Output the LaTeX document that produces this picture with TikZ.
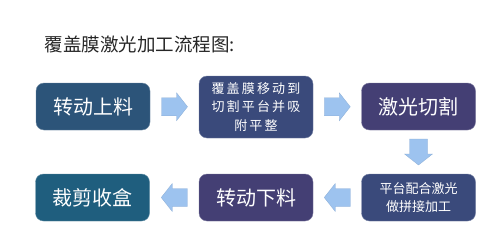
\documentclass[tikz,border=0pt]{standalone}
\usepackage{fontspec}
\setmainfont{Noto Sans CJK SC}
\usetikzlibrary{calc}
\definecolor{cA}{HTML}{2C5479}
\definecolor{cB}{HTML}{3A4A7B}
\definecolor{cC}{HTML}{443F74}
\definecolor{cD}{HTML}{1F5E7E}
\definecolor{arr}{HTML}{9DC3EF}
\tikzset{
  box/.style={rounded corners=8pt, minimum width=114pt, minimum height=47pt,
    text=white, inner sep=2pt, align=center, font=\fontsize{20}{24}\selectfont},
  smalltext/.style={font=\fontsize{13}{18.5}\selectfont},
  flow/.style={fill=arr, draw=arr!90!black, line width=0.3pt}
}
\newcommand{\blockarrow}[2]{%
  \draw[flow, shift={(#1)}, rotate=#2] (-13,-9) -- (2,-9) -- (2,-14) -- (13,0) -- (2,14) -- (2,9) -- (-13,9) -- cycle;}
\begin{document}
\begin{tikzpicture}[x=1pt,y=-1pt]
\useasboundingbox (0,0) rectangle (500,238);
\fill[white] (0,0) rectangle (500,238);
\node[anchor=west, font=\fontsize{18.5}{22}\selectfont, text=black!85] (title) at (41,44) {覆盖膜激光加工流程图:};
\node[box, fill=cA, draw=cA!70!white] (b1) at (93,106.5) {转动上料};
\node[box, smalltext, fill=cB, draw=cB!70!white, minimum height=62pt] (b2) at (256,107) {覆\,盖\,膜\,移\,动\,到\\切\,割\,平\,台\,并\,吸\\附\,平\,整};
\node[box, fill=cC, draw=cC!70!white] (b3) at (418.5,106.5) {激光切割};
\node[box, smalltext, fill=cB, draw=cB!70!white] (b4) at (418.5,197.5) {平台配合激光\\做拼接加工};
\node[box, fill=cC, draw=cC!70!white] (b5) at (256,197.5) {转动下料};
\node[box, fill=cD, draw=cD!70!white] (b6) at (92.5,197.5) {裁剪收盒};
\coordinate (a1) at ($(b1.east)!0.5!(b2.west)$);
\coordinate (a2) at ($(b2.east)!0.5!(b3.west)$);
\coordinate (a3) at ($(b3.south)!0.5!(b4.north)$);
\coordinate (a4) at ($(b4.west)!0.5!(b5.east)$);
\coordinate (a5) at ($(b5.west)!0.5!(b6.east)$);
\blockarrow{a1}{0}
\blockarrow{a2}{0}
\blockarrow{a3}{-90}
\blockarrow{a4}{180}
\blockarrow{a5}{180}
\end{tikzpicture}
\end{document}
